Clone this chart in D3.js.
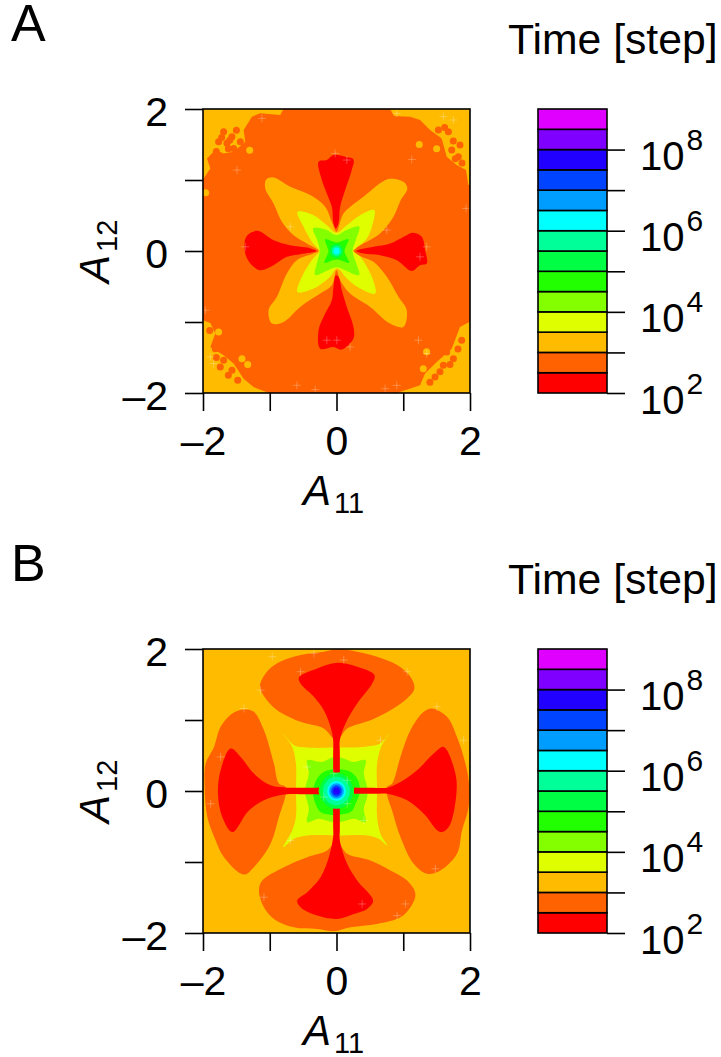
<!DOCTYPE html>
<html>
<head>
<meta charset="utf-8">
<script src="https://d3js.org/d3.v7.min.js"></script>
<style>
    body { margin: 0; background: #fff; }
    text { font-family: "Liberation Sans", Helvetica, Arial, sans-serif; fill: #000; }
</style>
</head>
<body>
<div id="chart"></div>
<script>
// colour key, one colour per half decade from 10^2 to 10^9
const timeColors = ["#ff0000", "#ff6200", "#ffbb00", "#dfff00", "#84ff00", "#22ff00", "#00ff44",
    "#00ff99", "#00ffff", "#009dff", "#0044ff", "#2200ff", "#8000ff", "#df00ff"];
const timeEdges = [1e2, 3.16e2, 1e3, 3.16e3, 1e4, 3.16e4, 1e5, 3.16e5, 1e6, 3.16e6, 1e7, 3.16e7, 1e8, 3.16e8, 1e9];
const timeTicks = [1e2, 1e3, 1e4, 1e5, 1e6, 1e7, 1e8];
const axisTicks = [-2, -1, 0, 1, 2];

// contour outlines, as [A11, A12]
// panel A
const aCornerTL = [[-2, 1], [-1.99, 1.022], [-1.89, 1.163], [-1.94, 1.304], [-1.815, 1.422], [-1.691, 1.375], [-1.541, 1.398], [-1.367, 1.539], [-1.391, 1.704], [-1.267, 1.892], [-1.142, 1.939], [-.843, 1.915], [-.793, 2], [-2, 2]];
const aCornerTR = [[.803, 2], [.863, 1.901], [1.102, 1.892], [1.252, 1.845], [1.401, 1.704], [1.576, 1.586], [1.651, 1.328], [1.8, 1.21], [1.94, 1.14], [1.975, .928], [2, .928], [2, 2]];
const aCornerBL = [[-2, -.975], [-1.89, -1.013], [-1.815, -1.163], [-1.89, -1.351], [-1.691, -1.469], [-1.541, -1.586], [-1.391, -1.798], [-1.242, -1.915], [-1.017, -2], [-2, -2]];
const aCornerBR = [[.903, -2], [1.252, -1.892], [1.327, -1.727], [1.501, -1.563], [1.726, -1.375], [1.85, -1.069], [1.99, -.999], [2, -1], [2, -2]];
const aFlecksOrange = [[-1.566, 1.61], [-1.641, 1.516], [-1.541, 1.445], [-1.691, 1.68], [-1.766, 1.539], [-1.84, 1.304], [-1.441, 1.539],
    [-1.6, 1.56], [-1.72, 1.6], [-1.5, 1.7], [-1.8, 1.4], [-1.62, 1.44],
    [1.676, 1.68], [1.85, 1.492], [1.825, 1.328], [1.726, 1.422], [1.526, 1.704], [1.62, 1.74], [1.75, 1.55], [1.88, 1.24], [1.78, 1.3],
    [-1.815, -1.375], [-1.741, -1.633], [-1.566, -1.68], [-1.691, -1.539], [-1.9, -1.12], [-1.62, -1.75], [-1.8, -1.5], [-1.48, -1.82],
    [1.601, -1.61], [1.751, -1.516], [1.476, -1.774], [1.651, -1.422], [1.875, -1.257], [1.55, -1.7], [1.7, -1.6], [1.82, -1.38], [1.4, -1.85]];
const aFlecksAmber = [[-1.416, -1.516], [-1.766, -1.14], [-1.2, 1.98], [1.24, 1.5], [1.35, -1.42], [-1.3, 1.42], [1.5, 1.44], [-1.33, -1.6], [1.3, -1.66], [-1.96, .82]];
const aPetals = [[0, .27], [.055, .411], [.105, .529], [.404, .764], [.778, 1.013], [1.002, .975], [1.062, .881], [.963, .717], [.853, .482], [.653, .247], [.404, .106], [.254, .035], [.239, 0],
    [.379, -.082], [.554, -.153], [.753, -.364], [.928, -.646], [1.052, -.834], [1.002, -1.069], [.803, -1.022], [.504, -.787], [.204, -.599], [.055, -.411], [0, -.27],
    [-.07, -.482], [-.244, -.599], [-.544, -.787], [-.793, -.999], [-.968, -1.022], [-1.017, -.834], [-.893, -.646], [-.743, -.317], [-.594, -.129], [-.344, -.035], [-.269, 0],
    [-.444, .106], [-.643, .223], [-.818, .411], [-.943, .67], [-1.067, .881], [-1.052, 1.008], [-.943, 1.036], [-.693, .905], [-.394, .787], [-.17, .623], [-.07, .411]];
const aRedTop = [[-.01, .317], [-.045, .388], [-.07, .623], [-.145, .811], [-.234, 1.046], [-.269, 1.257], [-.145, 1.281], [-.045, 1.351], [.13, 1.328], [.254, 1.29], [.229, 1.14], [.13, .858], [.055, .623], [.03, .388]];
const aRedBottom = [[-.01, -.341], [-.045, -.505], [-.07, -.693], [-.195, -.928], [-.269, -1.116], [-.244, -1.375], [-.045, -1.351], [.08, -1.389], [.254, -1.234], [.254, -1.069], [.155, -.787], [.08, -.552], [.03, -.364]];
const aRedLeft = [[-.304, 0], [-.544, -.045], [-.743, -.082], [-.943, -.2], [-1.142, -.27], [-1.267, -.2], [-1.367, -.035], [-1.352, .2], [-1.192, .284], [-.943, .153], [-.693, .082], [-.444, .049]];
const aRedRight = [[.294, 0], [.554, .059], [.803, .106], [1.052, .223], [1.142, .256], [1.277, .2], [1.327, .012], [1.352, -.176], [1.252, -.2], [1.127, -.28], [.903, -.129], [.653, -.059], [.404, -.035]];
const aYellow = [[0, .256], [.155, .364], [.354, .505], [.564, .576], [.544, .388], [.454, .176], [.289, .035], [.254, 0], [.354, -.082], [.529, -.364], [.579, -.599], [.354, -.529], [.13, -.364], [.055, -.27], [0, -.247],
    [-.095, -.364], [-.344, -.529], [-.584, -.576], [-.494, -.317], [-.369, -.129], [-.269, -.026], [-.254, 0], [-.369, .129], [-.494, .341], [-.584, .552], [-.344, .505], [-.145, .364]];
const aLime = [[0, .225], [.15, .296], [.34, .343], [.29, .155], [.24, 0], [.29, -.155], [.34, -.338], [.15, -.28], [0, -.23], [-.15, -.28], [-.32, -.338], [-.29, -.155], [-.25, 0], [-.29, .155], [-.35, .32], [-.15, .296]];
const aGreen = [[0, .12], [.18, .165], [.14, .06], [.12, 0], [.14, -.06], [.19, -.165], [0, -.12], [-.18, -.165], [-.14, -.06], [-.12, 0], [-.14, .06], [-.17, .165]];
const aRings = [.1, .07, .045];
const aSeams = [[-1.491, 1.14], [1.127, 1.29], [1.94, .6], [-.319, -1.953], [-.594, -1.892], [.728, -1.939], [1.227, -1.257], [1.352, -1.445], [.903, -1.892], [-1.89, -1.492], [-1.84, -1.586], [-1.965, -.834], [.903, 1.939], [1.751, 1.845], [-1.367, .059], [1.352, .059], [1.252, -.082], [-1.117, 1.868], [1.601, 1.892], [-.693, .341], [.753, .294], [-.02, 1.375], [.155, 1.281], [-.145, -1.257], [.005, -1.257], [.204, -1.351]];

// panel B
const bOrangeTop = [[-1.147, 1.468], [-1.062, 1.656], [-.888, 1.798], [-.539, 1.915], [-.19, 1.962], [.01, 1.995], [.309, 1.962], [.608, 1.892], [.908, 1.774], [1.107, 1.609], [1.167, 1.445], [1.057, 1.304], [.808, 1.139], [.509, .998], [.16, .88], [.035, .739], [-.04, .739], [-.19, .88], [-.539, .974], [-.888, 1.139], [-1.062, 1.304]];
const bOrangeBottom = [[.035, -.744], [.16, -.885], [.509, -.979], [.808, -1.12], [1.057, -1.261], [1.182, -1.449], [1.107, -1.638], [.958, -1.779], [.608, -1.873], [.209, -1.92], [-.04, -1.976], [-.289, -1.944], [-.638, -1.92], [-.938, -1.802], [-1.087, -1.638], [-1.162, -1.402], [-1.112, -1.261], [-.788, -1.073], [-.439, -.932], [-.14, -.838], [-.04, -.744]];
const bOrangeLeft = [[-1.561, 1.092], [-1.736, .904], [-1.835, .621], [-1.96, .386], [-1.975, .056], [-1.935, -.367], [-1.81, -.696], [-1.686, -.932], [-1.387, -1.176], [-1.237, -1.073], [-.988, -.744], [-.863, -.367], [-.763, -.061], [-.763, .056], [-.863, .104], [-.938, .386], [-1.087, .856], [-1.237, 1.115], [-1.387, 1.148]];
const bOrangeRight = [[1.431, 1.162], [1.656, 1.045], [1.805, .762], [1.905, .48], [1.98, .151], [1.98, -.226], [1.88, -.555], [1.805, -.885], [1.556, -1.12], [1.357, -1.167], [1.157, -1.026], [.958, -.649], [.833, -.273], [.758, -.061], [.758, .056], [.833, .104], [.958, .48], [1.107, .856], [1.307, 1.115]];
// stems carry extra points near their tips so the curve stays straight there
const bRedTop = [[-.05, .268], [0, .26], [.05, .268], [.05, .3], [.05, .4], [.05, .55], [.05, .715], [.135, .951], [.309, 1.233], [.534, 1.515], [.569, 1.633], [.309, 1.751], [.01, 1.807], [-.289, 1.727], [-.564, 1.6], [-.539, 1.515], [-.339, 1.327], [-.19, 1.139], [-.09, .904], [-.05, .715], [-.05, .55], [-.05, .4], [-.05, .3]];
const bRedBottom = [[-.05, -.249], [0, -.24], [.05, -.249], [.05, -.28], [.05, -.4], [.05, -.55], [.05, -.696], [.16, -1.026], [.309, -1.261], [.549, -1.544], [.459, -1.661], [.259, -1.732], [.01, -1.802], [-.289, -1.755], [-.539, -1.638], [-.589, -1.544], [-.439, -1.426], [-.239, -1.214], [-.115, -.932], [-.05, -.649], [-.05, -.5], [-.05, -.4], [-.05, -.28]];
const bRedLeft = [[-.264, .047], [-.27, 0], [-.264, -.047], [-.3, -.047], [-.4, -.047], [-.55, -.047], [-.738, -.047], [-1.037, -.108], [-1.312, -.273], [-1.561, -.579], [-1.711, -.367], [-1.776, -.038], [-1.736, .292], [-1.586, .598], [-1.436, .48], [-1.237, .245], [-.988, .08], [-.738, .047], [-.55, .047], [-.4, .047], [-.3, .047]];
const bRedRight = [[.269, .047], [.262, 0], [.269, -.038], [.3, -.04], [.4, -.04], [.55, -.04], [.758, -.038], [1.057, -.132], [1.307, -.32], [1.556, -.579], [1.681, -.508], [1.796, -.038], [1.781, .245], [1.606, .621], [1.456, .527], [1.207, .292], [.958, .127], [.758, .047], [.55, .047], [.4, .047], [.3, .047]];
const bYellow = [[-.788, .795], [-.638, .645], [-.439, .612], [0, .612], [.409, .621], [.658, .668], [.793, .809], [.668, .621], [.608, .386], [.608, 0], [.608, -.367], [.658, -.602], [.758, -.767], [.633, -.673], [.459, -.626], [0, -.626], [-.439, -.626], [-.638, -.673], [-.798, -.791], [-.663, -.555], [-.608, -.367], [-.608, 0], [-.608, .386], [-.663, .621]];
const bLime = [[-.439, .433], [-.214, .409], [-.065, .471], [.06, .471], [.259, .409], [.434, .433], [.409, .245], [.459, .056], [.459, -.085], [.409, -.249], [.434, -.438], [.259, -.391], [.06, -.438], [-.065, -.438], [-.264, -.391], [-.439, -.438], [-.414, -.249], [-.464, -.061], [-.464, .056], [-.414, .245]];
const bGreen = [[-.165, .283], [.185, .283], [.31, .175], [.35, 0], [.285, -.179], [.21, -.297], [-.215, -.311], [-.315, -.179], [-.35, 0], [-.29, .175]];
const bRings = [.25, .2, .14, .11, .08, .05];
const bSeams = [[-.539, 1.68], [-.963, 1.892], [-.339, 1.939], [.11, 1.845], [1.057, 1.68], [-1.137, 1.421], [-1.736, .48], [-1.885, -.179], [-1.387, 1.162], [-1.087, -1.496], [1.032, -1.591], [.908, -1.755], [.384, -1.591], [1.506, 1.186], [1.905, .715], [1.481, -1.096], [-.04, .245], [-.19, -.085], [.16, .151], [.16, -.179], [-.439, .339], [.409, -.414], [-.688, -.696], [.658, .715]];

const panels = [
    {
        letter: "A", top: 109, base: 1,
        shapes: [[2, aCornerTL], [2, aCornerTR], [2, aCornerBL], [2, aCornerBR], [2, aPetals], [3, aYellow], [4, aLime], [5, aGreen],
            [0, aRedTop], [0, aRedBottom], [0, aRedLeft], [0, aRedRight]],
        flecks: [[1, aFlecksOrange], [2, aFlecksAmber]],
        rings: aRings, ringStart: 6, seams: aSeams
    },
    {
        letter: "B", top: 649, base: 2,
        shapes: [[1, bOrangeTop], [1, bOrangeBottom], [1, bOrangeLeft], [1, bOrangeRight], [3, bYellow], [4, bLime], [5, bGreen],
            [0, bRedTop], [0, bRedBottom], [0, bRedLeft], [0, bRedRight]],
        flecks: [],
        rings: bRings, ringStart: 6, seams: bSeams
    }
];

const width = 721;
const height = 1057;
const svg = d3.select("#chart").append("svg").attr("width", width).attr("height", height).style("display", "block");

const plotLeft = 203, plotRight = 470, plotHeight = 284;
const keyLeft = 538, keyRight = 607;

panels.forEach((p, idx) => {
    const g = svg.append("g");
    const x = d3.scaleLinear().domain([-2, 2]).range([plotLeft, plotRight]);
    const y = d3.scaleLinear().domain([-2, 2]).range([p.top + plotHeight, p.top]);
    const line = d3.line().x(d => x(d[0])).y(d => y(d[1])).curve(d3.curveCatmullRomClosed.alpha(0.5));
    const straight = d3.line().x(d => x(d[0])).y(d => y(d[1]));

    g.append("clipPath").attr("id", "clip" + idx).append("rect")
        .attr("x", plotLeft).attr("y", p.top).attr("width", plotRight - plotLeft).attr("height", plotHeight);

    const plot = g.append("g").attr("clip-path", `url(#clip${idx})`);
    plot.append("rect").attr("x", plotLeft).attr("y", p.top)
        .attr("width", plotRight - plotLeft).attr("height", plotHeight)
        .attr("fill", timeColors[p.base]);

    // the corner patches have to keep their square corners
    const corners = [aCornerTL, aCornerTR, aCornerBL, aCornerBR];
    plot.selectAll("path.level").data(p.shapes).enter().append("path")
        .attr("class", "level")
        .attr("d", d => corners.includes(d[1]) ? straight(d[1]) + "Z" : line(d[1]))
        .attr("fill", d => timeColors[d[0]]);

    p.flecks.forEach(f => {
        plot.append("g").selectAll("circle").data(f[1]).enter().append("circle")
            .attr("cx", d => x(d[0])).attr("cy", d => y(d[1])).attr("r", 3.5)
            .attr("fill", timeColors[f[0]]);
    });

    plot.selectAll("ellipse").data(p.rings).enter().append("ellipse")
        .attr("cx", x(0)).attr("cy", y(0))
        .attr("rx", d => x(d) - x(0)).attr("ry", d => y(0) - y(d))
        .attr("fill", (d, i) => timeColors[p.ringStart + i]);

    // pale seams of the original raster
    const seams = plot.append("g").attr("stroke", "#fff").attr("stroke-opacity", 0.25).attr("stroke-width", 1)
        .selectAll("g").data(p.seams).enter().append("g");
    seams.append("line").attr("x1", d => x(d[0]) - 4).attr("x2", d => x(d[0]) + 4).attr("y1", d => y(d[1])).attr("y2", d => y(d[1]));
    seams.append("line").attr("x1", d => x(d[0])).attr("x2", d => x(d[0])).attr("y1", d => y(d[1]) - 4).attr("y2", d => y(d[1]) + 4);

    // frame
    g.append("rect").attr("x", plotLeft).attr("y", p.top)
        .attr("width", plotRight - plotLeft).attr("height", plotHeight)
        .attr("fill", "none").attr("stroke", "#000").attr("stroke-width", 1.6);

    const fmt = d => Math.abs(d) === 1 ? "" : String(d).replace("-", "\u2013");

    const xAxis = g.append("g").attr("transform", `translate(0,${p.top + plotHeight})`)
        .call(d3.axisBottom(x).tickValues(axisTicks).tickFormat(fmt).tickSize(18).tickSizeOuter(0));
    xAxis.select(".domain").remove();
    xAxis.selectAll("line").attr("stroke", "#000").attr("stroke-width", 1.6);
    xAxis.selectAll("text").attr("y", 62).attr("dy", 0).attr("font-size", 41);

    const yAxis = g.append("g").attr("transform", `translate(${plotLeft},0)`)
        .call(d3.axisLeft(y).tickValues(axisTicks).tickFormat(fmt).tickSize(18).tickSizeOuter(0));
    yAxis.select(".domain").remove();
    yAxis.selectAll("line").attr("stroke", "#000").attr("stroke-width", 1.6);
    yAxis.selectAll("text").attr("x", -35).attr("dy", 16).attr("font-size", 41);

    // axis titles
    const xTitle = g.append("text").attr("x", 303).attr("y", p.top + plotHeight + 112).attr("font-size", 42);
    xTitle.append("tspan").attr("font-style", "italic").text("A");
    xTitle.append("tspan").attr("font-size", 29).attr("dx", 3).attr("dy", 8).text("11");

    const yTitle = g.append("text")
        .attr("transform", `translate(109,${p.top + 174}) rotate(-90)`).attr("font-size", 42);
    yTitle.append("tspan").attr("font-style", "italic").text("A");
    yTitle.append("tspan").attr("font-size", 29).attr("dx", 3).attr("dy", 8).text("12");

    // panel letter
    g.append("text").attr("x", 11).attr("y", p.top - 68).attr("font-size", 52).text(p.letter);

    // colour key
    const t = d3.scaleLog().domain([1e2, 1e9]).range([p.top + plotHeight, p.top]);
    g.append("text").attr("x", 508).attr("y", p.top - 55.5).attr("font-size", 42.7).text("Time [step]");

    g.append("g").selectAll("rect").data(timeColors).enter().append("rect")
        .attr("x", keyLeft).attr("width", keyRight - keyLeft)
        .attr("y", (d, i) => t(timeEdges[i + 1]))
        .attr("height", (d, i) => t(timeEdges[i]) - t(timeEdges[i + 1]))
        .attr("fill", d => d)
        .attr("stroke", "#000").attr("stroke-width", 1.6);

    const keyAxis = g.append("g").attr("transform", `translate(${keyRight},0)`)
        .call(d3.axisRight(t).tickValues(timeTicks).tickFormat("").tickSize(18).tickSizeOuter(0));
    keyAxis.select(".domain").remove();
    keyAxis.selectAll("line").attr("stroke", "#000").attr("stroke-width", 1.6);

    const keyLabels = g.append("g").selectAll("text")
        .data(timeTicks.filter(d => Math.round(Math.log10(d)) % 2 === 0)).enter().append("text")
        .attr("x", 640).attr("y", d => t(d) + 20.5).attr("font-size", 40);
    keyLabels.append("tspan").text("10");
    keyLabels.append("tspan").attr("font-size", 30).attr("dx", 2).attr("dy", -20).text(d => Math.round(Math.log10(d)));
});
</script>
</body>
</html>
